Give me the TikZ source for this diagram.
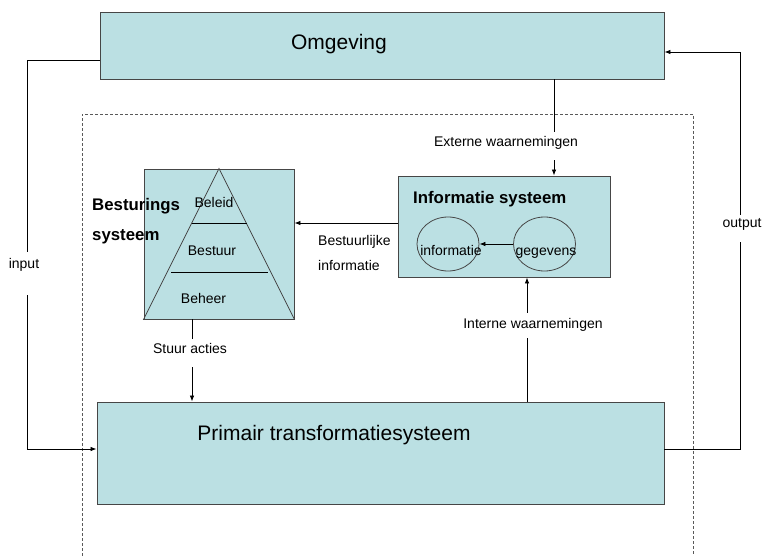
\documentclass[tikz,border=0pt]{standalone}
\usepackage{fontspec}
\setmainfont{Liberation Sans}
\usetikzlibrary{arrows.meta,shapes.geometric}
\definecolor{boxfill}{RGB}{187,224,227}
\definecolor{boxline}{RGB}{70,70,70}
\begin{document}
\begin{tikzpicture}[x=1pt,y=-1pt,
  box/.style={draw=boxline,fill=boxfill,line width=0.9pt,inner sep=0pt,minimum width=#1},
  bigtxt/.style={font=\fontsize{21}{25}\selectfont,inner sep=0pt,anchor=base},
  smalltxt/.style={font=\fontsize{14}{17}\selectfont,inner sep=0pt,anchor=base},
  boldtxt/.style={font=\fontsize{16.8}{20}\selectfont\bfseries,inner sep=0pt,anchor=base west},
  lbl/.style={font=\fontsize{14}{17}\selectfont,fill=white,inner xsep=1pt,inner ysep=0pt,anchor=base},
  conn/.style={draw=black,line width=0.8pt},
  arr/.style={conn,-{Latex[length=6pt,width=4.5pt]}},
  ovl/.style={draw=boxline,line width=0.8pt,ellipse,inner sep=0pt,minimum width=62pt,minimum height=54pt}
]
\useasboundingbox[fill=white] (0,0) rectangle (762,556);

% dashed system boundary
\draw[gray!70!black,dash pattern=on 3pt off 2pt,line width=0.8pt] (82,556) -- (82,114) -- (693,114) -- (693,556);

% boxes
\node[box=564pt,minimum height=67pt] (omg) at (382,45.5) {};
\node[bigtxt] (omgT) at (339,50) {Omgeving};

\node[box=567pt,minimum height=102pt] (prim) at (380.5,453) {};
\node[bigtxt] (primT) at (334,440) {Primair transformatiesysteem};

\node[box=212pt,minimum height=101pt] (info) at (504,226.5) {};
\node[boldtxt] (infoT) at (413,203) {Informatie systeem};
\node[ovl] (ovI) at (448,244) {};
\node[ovl] (ovG) at (544.5,244) {};
\node[smalltxt] (ovIT) at (451,255) {informatie};
\node[smalltxt] (ovGT) at (546,255) {gegevens};
\draw[arr] (ovG.west) -- (ovI.east);

\node[box=150pt,minimum height=150pt] (best) at (219,244) {};
\draw[boxline,line width=0.8pt] (best.north) -- (best.south west) -- (best.south east) -- cycle;
\coordinate (l1a) at (192,223); \coordinate (l1b) at (247,223);
\coordinate (l2a) at (171,272); \coordinate (l2b) at (268,272);
\draw[black,line width=0.8pt] (l1a) -- (l1b);
\draw[black,line width=0.8pt] (l2a) -- (l2b);
\node[smalltxt] (beleid) at (214,207) {Beleid};
\node[smalltxt] (bestuur) at (212,255) {Bestuur};
\node[smalltxt] (beheer) at (203.5,303) {Beheer};
\node[boldtxt] (bs1) at (92,210) {Besturings};
\node[boldtxt] (bs2) at (92,240) {systeem};

% connectors
\draw[arr] ([yshift=-14.5pt]omg.west) -- ++(-72,0) |- ([yshift=4pt]prim.west);
\draw[arr] ([yshift=4pt]prim.east) -- ++(76,0) |- ([yshift=-6.5pt]omg.east);
\draw[arr] ([xshift=172pt]omg.south) -- ([xshift=172pt]omg.south |- info.north);
\draw[arr] ([yshift=3.5pt]info.west) -- ([yshift=3.5pt]info.west -| best.east);
\draw[arr] ([xshift=-27pt]best.south) -- ([xshift=-27pt]best.south |- prim.north);
\draw[arr] ([xshift=23pt]info.south |- prim.north) -- ([xshift=23pt]info.south);

% labels
\node[lbl,text height=16pt,text depth=27pt] (inL) at (24,268) {input};
\node[lbl,text height=12pt,text depth=15pt] (outL) at (742,227) {output};
\node[lbl,text height=15pt,text depth=13pt] (extL) at (506,147) {Externe waarnemingen};
\node[lbl,text height=15pt,text depth=10pt] (intL) at (533,328) {Interne waarnemingen};
\node[lbl,text height=14pt,text depth=14pt] (stL) at (190,353) {Stuur acties};
\node[smalltxt,anchor=base west] (bi1) at (318,245) {Bestuurlijke};
\node[smalltxt,anchor=base west] (bi2) at (318,270) {informatie};
\end{tikzpicture}
\end{document}
